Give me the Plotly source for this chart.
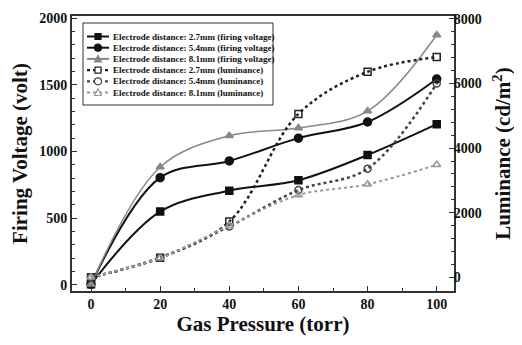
import plotly.graph_objects as go

pressure = [0, 20, 40, 60, 80, 100]

fv_27 = [5, 550, 706, 785, 974, 1205]
fv_54 = [5, 804, 929, 1100, 1221, 1543]
fv_81 = [5, 884, 1118, 1176, 1303, 1873]

lum_27 = [0, 606, 1727, 5060, 6364, 6818]
lum_54 = [0, 606, 1576, 2700, 3364, 6000]
lum_81 = [0, 600, 1600, 2545, 2879, 3485]

names = [
    "Electrode distance: 2.7mm (firing voltage)",
    "Electrode distance: 5.4mm (firing voltage)",
    "Electrode distance: 8.1mm (firing voltage)",
    "Electrode distance: 2.7mm (luminance)",
    "Electrode distance: 5.4mm (luminance)",
    "Electrode distance: 8.1mm (luminance)",
]

x_ticks = [0, 20, 40, 60, 80, 100]
y_ticks = [0, 500, 1000, 1500, 2000]
y2_ticks = [0, 2000, 4000, 6000, 8000]

styles = [
    dict(color="#111", width=2, dash="solid", symbol="square", size=7),
    dict(color="#111", width=2, dash="solid", symbol="circle", size=8),
    dict(color="#888", width=1.5, dash="solid", symbol="triangle-up", size=7),
    dict(color="#222", width=2.5, dash="dot", symbol="square-open", size=7),
    dict(color="#444", width=2.5, dash="dot", symbol="circle-open", size=7),
    dict(color="#999", width=2, dash="dot", symbol="triangle-up-open", size=7),
]
series = [fv_27, fv_54, fv_81, lum_27, lum_54, lum_81]

fig = go.Figure()
for i, (vals, st) in enumerate(zip(series, styles)):
    fig.add_trace(go.Scatter(
        x=pressure, y=vals, name=names[i], mode="lines+markers",
        yaxis="y2" if i >= 3 else "y", showlegend=False,
        line=dict(color=st["color"], width=st["width"], dash=st["dash"], shape="spline"),
        marker=dict(symbol=st["symbol"], size=st["size"], color=st["color"],
                    line=dict(width=1.5, color=st["color"]))))

# ---- legend box drawn in plot-area (paper) coordinates (window pixels) ----
L, R, T, B = 72, 454, 16, 291
def PX(p):
    return (p - L) / (R - L)
def PY(p):
    return (B - p) / (B - T)

shapes = [dict(type="rect", xref="paper", yref="paper",
               x0=PX(83), x1=PX(273), y0=PY(105), y1=PY(23),
               line=dict(color="#333", width=1), fillcolor="white", layer="above")]
annotations = []
for i, st in enumerate(styles):
    cy = 36.5 + 11.2 * i
    shapes.append(dict(type="line", xref="paper", yref="paper",
                       x0=PX(87), x1=PX(109), y0=PY(cy), y1=PY(cy), layer="above",
                       line=dict(color=st["color"], width=2 if st["dash"] == "solid" else 2.2,
                                 dash=st["dash"])))
    mx = 98
    open_ = st["symbol"].endswith("open")
    fill = "white" if open_ else st["color"]
    if st["symbol"].startswith("square"):
        shapes.append(dict(type="rect", xref="paper", yref="paper", layer="above",
                           x0=PX(mx - 3), x1=PX(mx + 3), y0=PY(cy + 3), y1=PY(cy - 3),
                           fillcolor=fill, line=dict(color=st["color"], width=1.2)))
    elif st["symbol"].startswith("circle"):
        shapes.append(dict(type="circle", xref="paper", yref="paper", layer="above",
                           x0=PX(mx - 3.5), x1=PX(mx + 3.5), y0=PY(cy + 3.5), y1=PY(cy - 3.5),
                           fillcolor=fill, line=dict(color=st["color"], width=1.2)))
    else:
        path = "M %f,%f L %f,%f L %f,%f Z" % (PX(mx - 3.5), PY(cy + 3), PX(mx + 3.5), PY(cy + 3),
                                             PX(mx), PY(cy - 3.5))
        shapes.append(dict(type="path", xref="paper", yref="paper", layer="above", path=path,
                           fillcolor=fill, line=dict(color=st["color"], width=1.2)))
    annotations.append(dict(xref="paper", yref="paper", x=PX(111), y=PY(cy),
                            xanchor="left", yanchor="middle", showarrow=False,
                            text="<b>%s</b>" % names[i],
                            font=dict(family="Liberation Serif", size=9, color="#111")))

tickfont = dict(family="Liberation Serif", size=14, color="#111")
titlefont = dict(family="Liberation Serif", size=21, color="#111")

# page body has an 8px margin, so the figure is sized to fit the rest of the window
fig.update_layout(
    width=514, height=337,
    margin=dict(l=64, r=68, t=8, b=54, autoexpand=False),
    paper_bgcolor="white", plot_bgcolor="white",
    font=dict(family="Liberation Serif", color="#111"),
    showlegend=False,
    shapes=shapes, annotations=annotations,
    xaxis=dict(range=[-5.5, 105], tickvals=x_ticks,
               ticktext=["<b>%d</b>" % v for v in x_ticks],
               ticks="inside", ticklen=5, tickwidth=1, tickcolor="#333",
               minor=dict(dtick=10, ticks="inside", ticklen=3, tickcolor="#333"),
               showline=True, linecolor="#333", linewidth=2, mirror=True,
               showgrid=False, zeroline=False, tickfont=tickfont, ticklabelstandoff=-1,
               title=dict(text="<b>Gas Pressure (torr)</b>", font=titlefont, standoff=0)),
    yaxis=dict(range=[-45, 2015], tickvals=y_ticks,
               ticktext=["<b>%d</b>" % v for v in y_ticks],
               ticks="inside", ticklen=5, tickwidth=1, tickcolor="#333",
               minor=dict(dtick=100, ticks="inside", ticklen=3, tickcolor="#333"),
               showline=True, linecolor="#333", linewidth=2,
               showgrid=False, zeroline=False, tickfont=tickfont,
               title=dict(text="<b>Firing Voltage (volt)</b>", font=titlefont, standoff=6)),
    yaxis2=dict(range=[-424, 8091], tickvals=y2_ticks,
                ticktext=["<b>%d</b>" % v for v in y2_ticks],
                overlaying="y", side="right",
                ticks="inside", ticklen=5, tickwidth=1, tickcolor="#333",
                minor=dict(dtick=400, ticks="inside", ticklen=3, tickcolor="#333"),
                showline=True, linecolor="#333", linewidth=2,
                showgrid=False, zeroline=False, tickfont=tickfont, ticklabelstandoff=-5,
                title=dict(text="<b>Luminance (cd/m<sup>2</sup>)</b>", font=titlefont, standoff=15)),
)

fig.write_html("out.html")
